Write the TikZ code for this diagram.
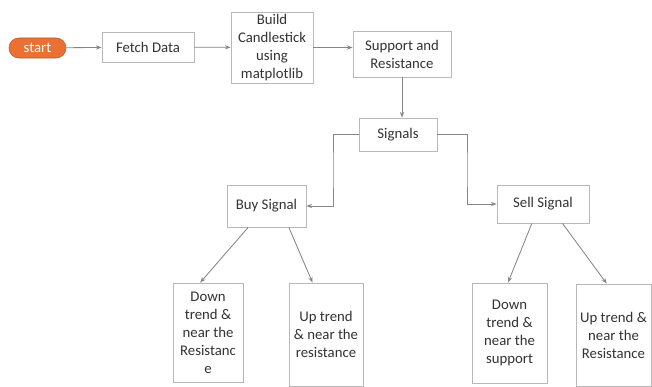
\documentclass[tikz,border=0pt]{standalone}
\usepackage{fontspec}
\setsansfont{Carlito}
\usepackage{tikz}
\usetikzlibrary{calc, arrows.meta}

\definecolor{boxline}{HTML}{B8B8B8}
\definecolor{arrline}{HTML}{858585}
\definecolor{startfill}{HTML}{EA7033}
\definecolor{txt}{HTML}{333333}

\tikzset{
  flowbox/.style={draw=boxline, line width=0.6pt, fill=white, align=center, inner sep=1pt,
    text=txt, font=\sffamily\fontsize{10.5}{12.8}\selectfont},
  pill/.style={draw=startfill!80!black, fill=startfill, rounded corners=7pt, text=white,
    minimum width=1.425cm, minimum height=0.5cm, font=\sffamily\fontsize{10.5}{12.8}\selectfont},
  flow/.style={draw=arrline, line width=0.6pt, -{Stealth[length=4pt,width=3pt]}}
}

\begin{document}
\begin{tikzpicture}[x=0.025cm, y=-0.025cm]
      \useasboundingbox (0,0) rectangle (652,387);
      % top row
      \node[pill] (start) at (37.5,48) {start};
      \node[flowbox, minimum width=2.3cm, minimum height=0.75cm] (fetch) at (148,47) {Fetch Data};
      \node[flowbox, minimum width=2.05cm, minimum height=1.775cm] (build) at (272,47.5) {Build\\Candlestick\\using\\matplotlib};
      \node[flowbox, minimum width=2.45cm, minimum height=1.15cm] (supres) at (402,54) {Support and\\Resistance};
      \node[flowbox, minimum width=1.95cm, minimum height=0.825cm] (signals) at (398,134.5) {Signals};
      % signal boxes
      \node[flowbox, minimum width=1.975cm, minimum height=1.05cm] (buy) at (266.5,206) {Buy Signal};
      \node[flowbox, minimum width=2.3cm, minimum height=0.95cm] (sell) at (543,204) {Sell Signal};
      % conditions
      \node[flowbox, minimum width=1.75cm, minimum height=2.475cm] (buydown) at (208,332.5) {Down\\trend \&\\near the\\Resistanc\\e};
      \node[flowbox, minimum width=1.85cm, minimum height=2.575cm] (buyup) at (326,334.5) {Up trend\\\& near the\\resistance};
      \node[flowbox, minimum width=1.875cm, minimum height=2.5cm] (selldown) at (509.5,333) {Down\\trend \&\\near the\\support};
      \node[flowbox, minimum width=1.875cm, minimum height=2.55cm] (sellup) at (613.5,335) {Up trend \&\\near the\\Resistance};

      \draw[flow] (start) -- (fetch);
      \draw[flow] (fetch) -- (build);
      \draw[flow] (build.east) -- (build.east -| supres.west);
      \draw[flow] (supres.south) -- (supres.south |- signals.north);
      \draw[flow] (signals.west) -| (333,170) |- (buy.east);
      \draw[flow] (signals.east) -| (467,170) |- (sell.west);
      \draw[flow] ($(buy.south west)!0.27!(buy.south east)$) -- ($(buydown.north west)!0.39!(buydown.north east)$);
      \draw[flow] ($(buy.south west)!0.78!(buy.south east)$) -- ($(buyup.north west)!0.32!(buyup.north east)$);
      \draw[flow] ($(sell.south west)!0.38!(sell.south east)$) -- ($(selldown.north west)!0.48!(selldown.north east)$);
      \draw[flow] ($(sell.south west)!0.71!(sell.south east)$) -- ($(sellup.north west)!0.41!(sellup.north east)$);
\end{tikzpicture}
\end{document}
